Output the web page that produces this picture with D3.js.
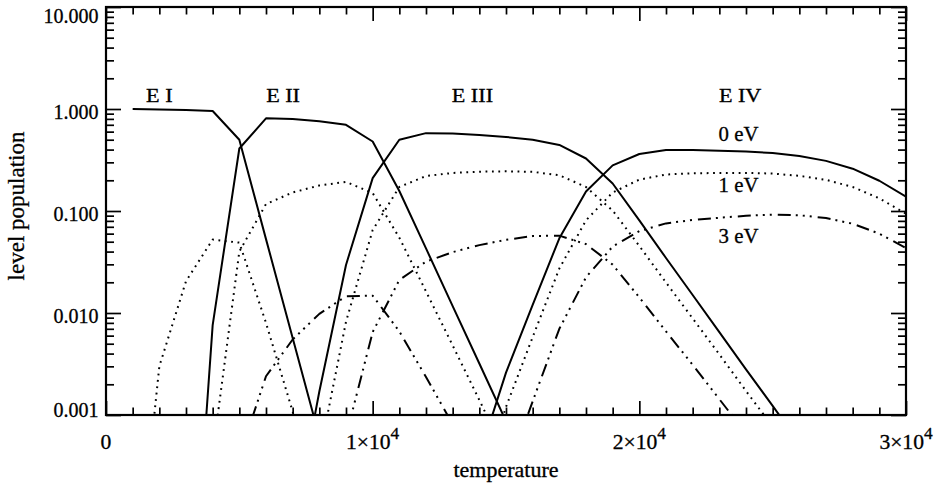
<!DOCTYPE html>
<html><head><meta charset="utf-8">
<script src="https://cdn.jsdelivr.net/npm/d3@7"></script>
<style>html,body{margin:0;padding:0;background:#fff;} svg{display:block;} text{stroke:#000;stroke-width:0.3px;}</style>
</head><body><svg id="chart" width="937" height="484"></svg>
<script>
// ---------------- data ----------------
const temperatures = [1000,2000,3000,4000,5000,6000,7000,8000,9000,10000,
  11000,12000,13000,14000,15000,16000,17000,18000,19000,20000,
  21000,22000,23000,24000,25000,26000,27000,28000,29000,30000];

const EI_0eV = [1.0,0.99,0.98,0.955,0.50,0.053,0.0057,0.00061,null,null,
  null,null,null,null,null,null,null,null,null,null,
  null,null,null,null,null,null,null,null,null,null];
const EI_1eV = [9e-6,0.003,0.0205,0.0525,0.049,0.008,0.00108,0.00014,null,null,
  null,null,null,null,null,null,null,null,null,null,
  null,null,null,null,null,null,null,null,null,null];

const EII_0eV = [null,null,1.5e-6,0.0076,0.41,0.81,0.80,0.76,0.70,0.48,
  0.157,0.043,0.0117,0.0032,0.00087,null,null,null,null,null,
  null,null,null,null,null,null,null,null,null,null];
const EII_1eV = [null,null,null,0.00042,0.040,0.117,0.152,0.178,0.193,0.150,
  0.0546,0.0163,0.0048,0.0014,0.0004,null,null,null,null,null,
  null,null,null,null,null,null,null,null,null,null];
const EII_3eV = [null,null,null,null,0.00039,0.0024,0.0055,0.0098,0.0146,0.0148,
  0.0066,0.00236,0.00081,null,null,null,null,null,null,null,
  null,null,null,null,null,null,null,null,null,null];

const EIII_0eV = [null,null,null,null,null,null,0.00007,0.0017,0.0296,0.21,
  0.50,0.58,0.575,0.556,0.532,0.50,0.444,0.327,0.186,0.081,
  0.0346,0.0150,0.0065,0.0028,0.00123,0.00053,null,null,null,null];
const EIII_1eV = [null,null,null,null,null,null,null,0.0004,0.0082,0.065,
  0.172,0.220,0.236,0.243,0.245,0.242,0.224,0.172,0.101,0.0454,
  0.0199,0.00885,0.00393,0.00172,0.00077,null,null,null,null,null];
const EIII_3eV = [null,null,null,null,null,null,null,2.2e-5,0.00062,0.0065,
  0.0211,0.0319,0.0395,0.0463,0.0522,0.0568,0.0573,0.0473,0.0298,0.0142,
  0.0066,0.0031,0.00143,0.00066,null,null,null,null,null,null];

const EIV_0eV = [null,null,null,null,null,null,null,null,null,null,
  null,null,0.00005,0.0004,0.0026,0.012,0.054,0.155,0.28,0.362,
  0.397,0.397,0.39,0.383,0.37,0.346,0.31,0.26,0.198,0.138];
const EIV_1eV = [null,null,null,null,null,null,null,null,null,null,
  null,null,null,0.000175,0.0012,0.0058,0.0273,0.081,0.152,0.203,
  0.228,0.234,0.236,0.236,0.233,0.221,0.202,0.172,0.133,0.094];
const EIV_3eV = [null,null,null,null,null,null,null,null,null,null,
  null,null,null,0.000033,0.00026,0.00136,0.0070,0.0224,0.0448,0.0635,
  0.0756,0.0816,0.0858,0.0898,0.092,0.0908,0.0854,0.075,0.060,0.0432];

const xMajorTicks = [0,10000,20000,30000];
const xTickLabels = [["0",""],["1×10","4"],["2×10","4"],["3×10","4"]];
const yMajorTicks = [0.001,0.01,0.1,1,10];
const yTickLabels = ["0.001","0.010","0.100","1.000","10.000"];
const stageNames = ["E I","E II","E III","E IV"];
const energyNames = ["0 eV","1 eV","3 eV"];

// ---------------- layout ----------------
const svg = d3.select("#chart");
const L = 106, R = 906, T = 7, B = 415;
const x = d3.scaleLinear().domain([0,30000]).range([L,R]);
const y = d3.scaleLog().domain([0.001,10]).range([B,T]);
const FONT = "'Liberation Serif','Times New Roman',serif";

svg.append("defs").append("clipPath").attr("id","plotclip")
  .append("rect").attr("x",L).attr("y",T).attr("width",R-L).attr("height",B-T);

// curves
const styles = {
  solid: null,
  dot: "1.8,4.6",
  dash3: "13,5,2,5,2,5,2,6"
};
const curves = [
  [EI_0eV,"solid"],[EI_1eV,"dot"],
  [EII_0eV,"solid"],[EII_1eV,"dot"],[EII_3eV,"dash3"],
  [EIII_0eV,"solid"],[EIII_1eV,"dot"],[EIII_3eV,"dash3"],
  [EIV_0eV,"solid"],[EIV_1eV,"dot"],[EIV_3eV,"dash3"]
];
const line = d3.line().defined(d => d.v != null).x(d => x(d.t)).y(d => y(d.v));
const gCurves = svg.append("g").attr("clip-path","url(#plotclip)");
curves.forEach(([vals, st]) => {
  const pts = temperatures.map((t,i) => ({t, v: vals[i]}));
  gCurves.append("path").datum(pts)
    .attr("d", line).attr("fill","none").attr("stroke","#000")
    .attr("stroke-width", 2).attr("stroke-linejoin","round")
    .attr("stroke-dasharray", styles[st]);
});

// axes (ticks inward)
const xMinor = d3.range(0, 30001, 1000).filter(v => !xMajorTicks.includes(v));
const yMinor = [];
yMajorTicks.slice(0,-1).forEach(d => { for (let k=2;k<=9;k++) yMinor.push(d*k); });

function axis(gen, vals, size, tr) {
  const g = svg.append("g").attr("transform", tr)
    .call(gen.tickValues(vals).tickSize(size).tickFormat(""));
  g.select(".domain").remove();
  g.selectAll("line").attr("stroke","#000").attr("stroke-width",1.7);
}
axis(d3.axisBottom(x), xMajorTicks, -14, `translate(0,${B})`);
axis(d3.axisBottom(x), xMinor, -7.5, `translate(0,${B})`);
axis(d3.axisTop(x), xMajorTicks, -14, `translate(0,${T})`);
axis(d3.axisTop(x), xMinor, -7.5, `translate(0,${T})`);
axis(d3.axisLeft(y), yMajorTicks, -15, `translate(${L},0)`);
axis(d3.axisLeft(y), yMinor, -8, `translate(${L},0)`);
axis(d3.axisRight(y), yMajorTicks, -15, `translate(${R},0)`);
axis(d3.axisRight(y), yMinor, -8, `translate(${R},0)`);

// frame
svg.append("rect").attr("x",L).attr("y",T).attr("width",R-L).attr("height",B-T)
  .attr("fill","none").attr("stroke","#000").attr("stroke-width",2.2);

// helper for (horizontally stretched) text
function txt(str, px, py, size, sx, anchor) {
  return svg.append("text")
    .attr("transform", `translate(${px},${py}) scale(${sx},1)`)
    .attr("text-anchor", anchor || "middle")
    .attr("font-family", FONT).attr("font-size", size).attr("fill","#000")
    .text(str);
}

// y tick labels
yMajorTicks.forEach((v,i) => {
  const by = Math.max(T+16, Math.min(B+2, y(v)+10));
  txt(yTickLabels[i], L-7.5, by, 20, 1, "end");
});
// x tick labels
xMajorTicks.forEach((v,i) => {
  const t = svg.append("text")
    .attr("transform", `translate(${x(v)},449) scale(1.08,1)`)
    .attr("text-anchor","middle").attr("font-family",FONT)
    .attr("font-size",20).attr("fill","#000");
  t.append("tspan").text(xTickLabels[i][0]);
  if (xTickLabels[i][1]) t.append("tspan").attr("dy",-10).attr("font-size",16).text(xTickLabels[i][1]);
});

// axis titles
txt("temperature", (L+R)/2, 476.5, 20, 1.1);
svg.append("text").attr("transform","translate(23.5,206) rotate(-90)")
  .attr("text-anchor","middle").attr("font-family",FONT).attr("font-size",23)
  .attr("fill","#000").text("level population");

// annotations
const stageX = [2000, 6640, 13740, 23780];
stageNames.forEach((s,i) => txt(s, x(stageX[i]), 101.7, 18.5, 1.2));
const eBase = [141, 191.5, 242.5];
energyNames.forEach((s,i) => txt(s, x(23720), eBase[i], 20, 1.04));
</script></body></html>
